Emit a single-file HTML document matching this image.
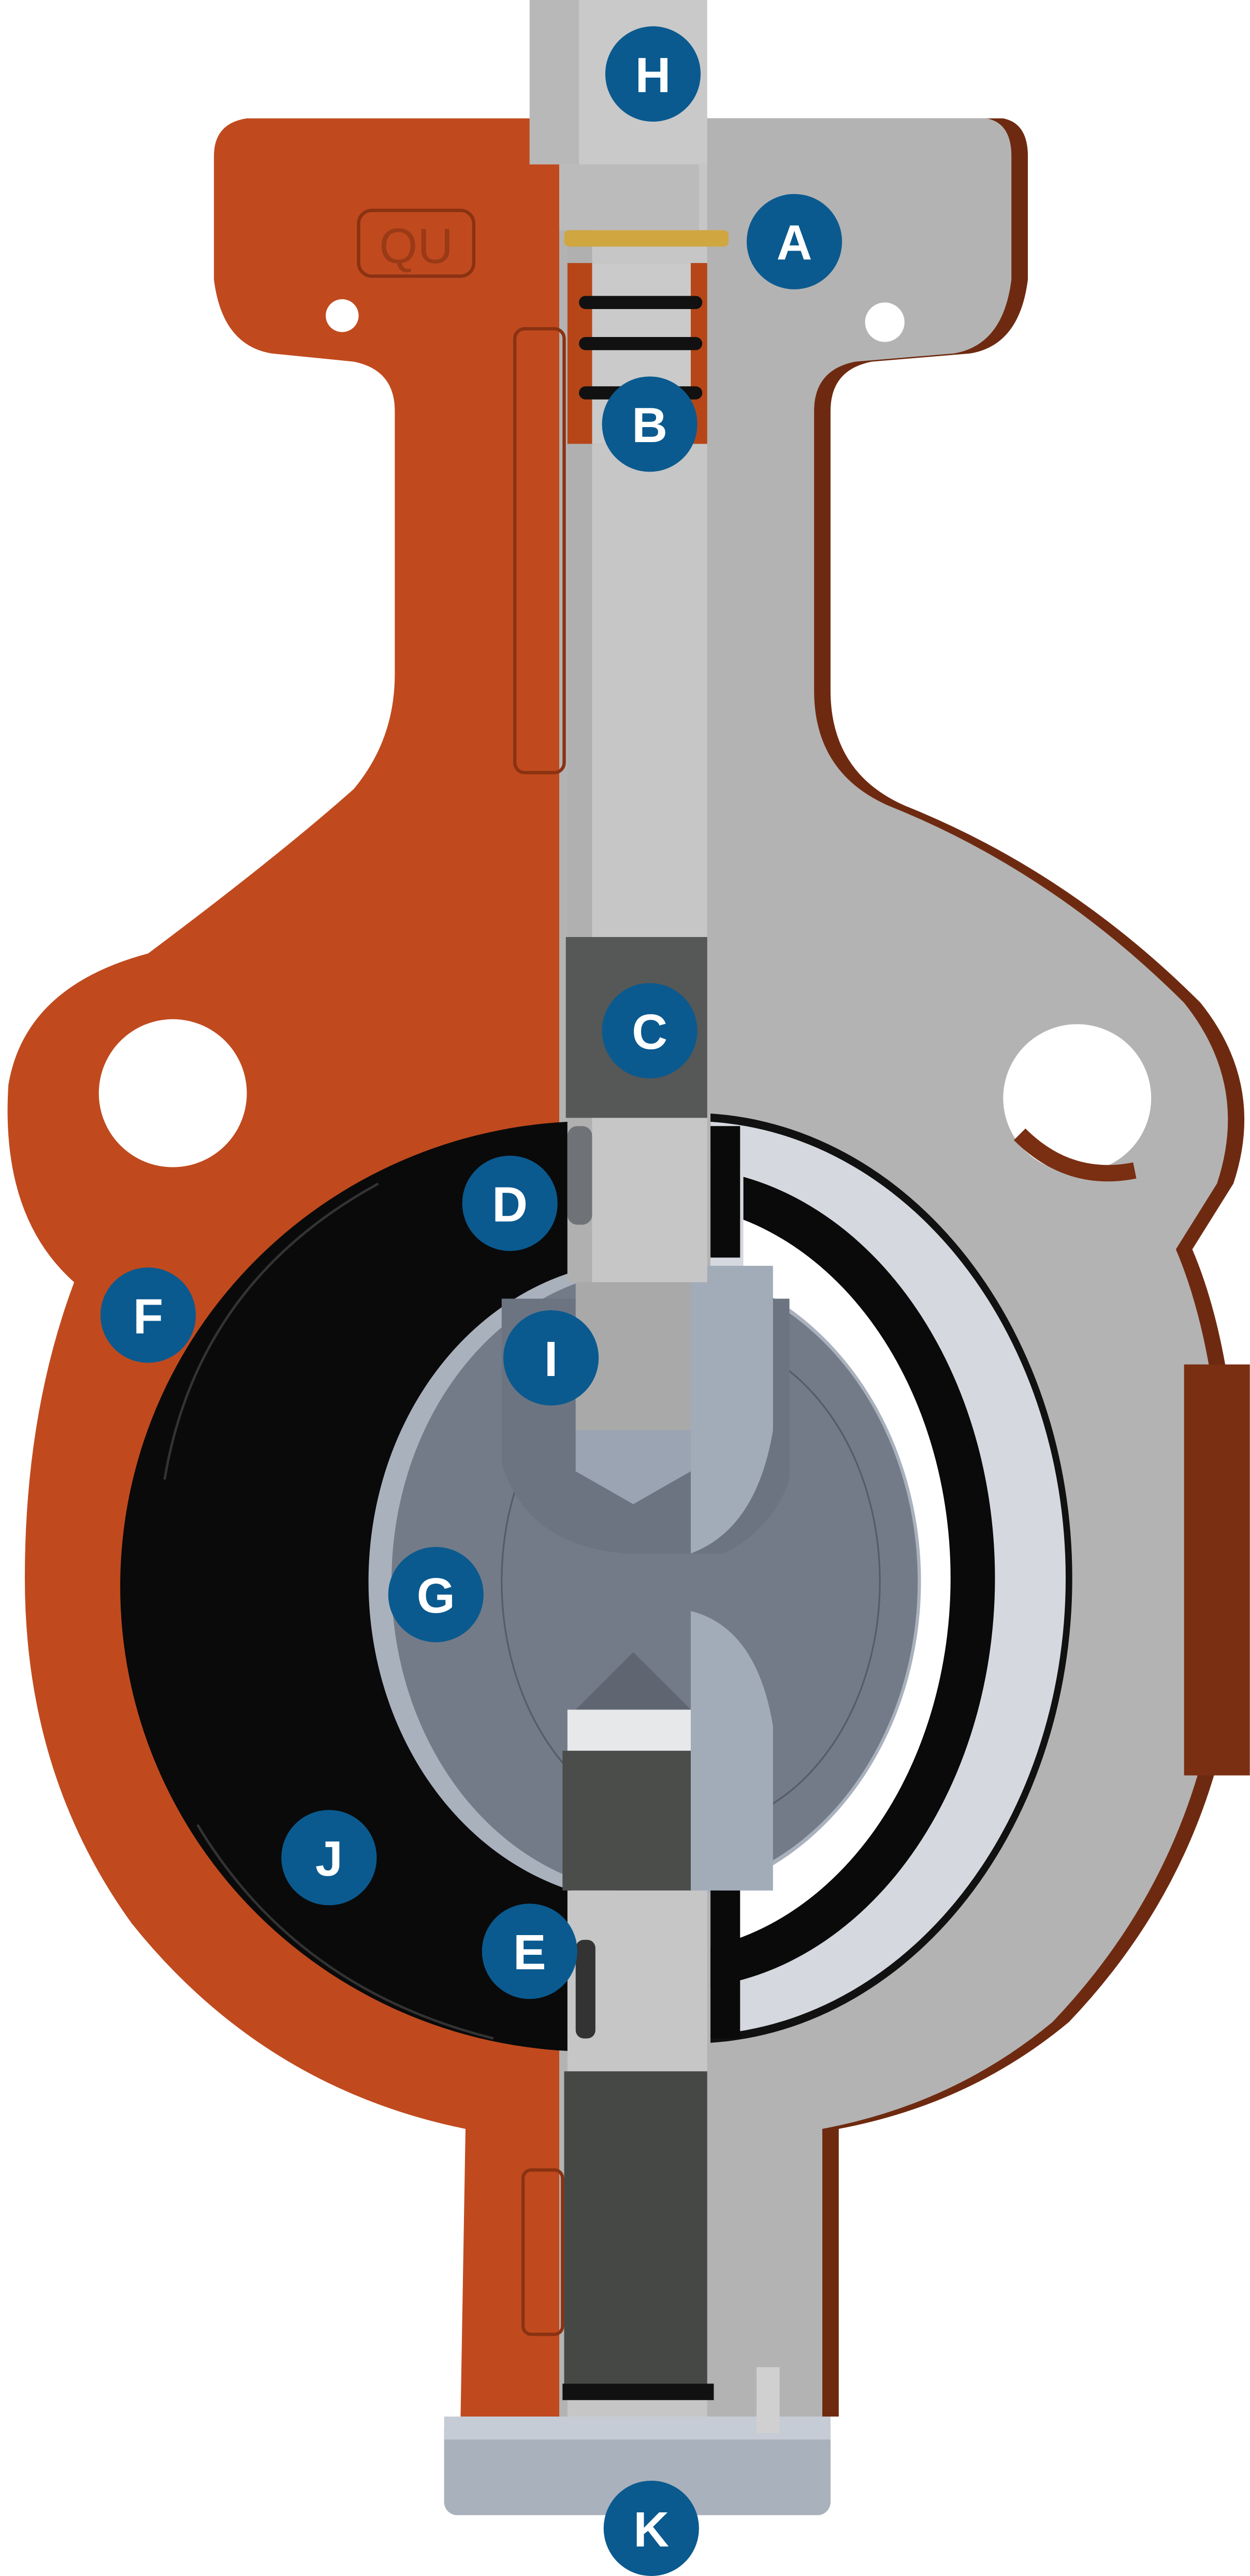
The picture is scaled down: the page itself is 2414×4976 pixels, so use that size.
<!DOCTYPE html>
<html><head><style>html,body{margin:0;padding:0;background:#fff}svg{display:block}</style></head>
<body>
<svg width="2414" height="4976" viewBox="0 0 760 1567" xmlns="http://www.w3.org/2000/svg">
<defs>
<clipPath id="right"><rect x="340" y="0" width="420" height="1567"/></clipPath>
<clipPath id="left"><rect x="0" y="0" width="362" height="1567"/></clipPath>
<clipPath id="rb"><rect x="432" y="0" width="400" height="1567"/></clipPath>
<path id="body" d="M130,95 Q130,75 150,72 L600,72 Q615,75 615,95 L615,170 Q610,210 580,215 L520,220 Q495,225 495,250 L495,420 Q495,470 540,490 Q640,530 720,610 Q760,660 740,720 L715,760 Q745,830 745,960 Q745,1120 640,1230 Q580,1280 500,1295 L500,1470 L280,1470 L283,1295 Q160,1270 80,1170 Q15,1080 15,960 Q15,860 45,780 Q0,740 5,660 Q15,600 90,580 Q170,520 215,480 Q240,450 240,410 L240,250 Q240,225 215,220 L165,215 Q135,210 130,170 Z"/>
</defs>
<use href="#body" fill="#c04a1e"/>
<g clip-path="url(#right)">
<use href="#body" fill="#6e2a10" transform="translate(10,0)"/>
<use href="#body" fill="#b3b3b3"/>
</g>
<rect x="720" y="830" width="40" height="250" fill="#7a2e12"/>
<!-- holes -->
<circle cx="105" cy="665" r="45" fill="#fff"/>
<circle cx="655" cy="668" r="45" fill="#fff"/>
<path d="M620,690 Q650,720 690,712" stroke="#7a2e12" stroke-width="10" fill="none"/>
<circle cx="208" cy="192" r="10" fill="#fff"/>
<circle cx="538" cy="196" r="12" fill="#fff"/>
<!-- orange details -->
<rect x="218" y="128" width="70" height="40" rx="8" fill="none" stroke="#8a3212" stroke-width="2"/>
<text x="253" y="160" font-family="Liberation Sans, sans-serif" font-size="30" fill="#9a3a16" text-anchor="middle">QU</text>
<rect x="313" y="200" width="30" height="270" rx="6" fill="none" stroke="#8a3212" stroke-width="2"/>
<rect x="318" y="1320" width="24" height="100" rx="5" fill="none" stroke="#8a3212" stroke-width="2"/>
<!-- left liner black -->
<g clip-path="url(#left)">
<ellipse cx="360" cy="965" rx="287" ry="283" fill="#0a0a0a"/>
</g>
<path d="M100,900 Q120,780 230,720" stroke="#333" fill="none" stroke-width="1.5"/>
<path d="M120,1110 Q180,1210 300,1240" stroke="#333" fill="none" stroke-width="1.5"/>
<!-- right liner -->
<g clip-path="url(#rb)">
<ellipse cx="420" cy="960" rx="232" ry="283" fill="#111"/>
<ellipse cx="420" cy="960" rx="228" ry="278" fill="#d5d9df"/>
<ellipse cx="410" cy="960" rx="195" ry="250" fill="#0a0a0a"/>
<ellipse cx="400" cy="960" rx="178" ry="228" fill="#fff"/>
</g>
<rect x="432" y="700" width="20" height="80" fill="#d5d9df"/>
<!-- disc -->
<ellipse cx="392" cy="962" rx="168" ry="195" fill="#a9b1bd"/>
<ellipse cx="398" cy="962" rx="160" ry="190" fill="#737b88"/>
<ellipse cx="420" cy="962" rx="115" ry="150" fill="none" stroke="#555c66" stroke-width="1"/>
<path d="M305,790 L305,890 Q320,940 380,945 L440,945 Q470,930 480,900 L480,790 Z" fill="#6c7482"/>
<path d="M420,770 L470,770 L470,870 Q460,930 420,945 Z" fill="#a2acb9"/>
<path d="M420,980 Q460,990 470,1050 L470,1150 L420,1150 Z" fill="#a2acb9"/>
<rect x="350" y="780" width="70" height="90" fill="#a9a9a9"/>
<polygon points="350,870 420,870 420,895 385,915 350,895" fill="#9aa4b2"/>
<polygon points="350,1040 385,1005 420,1040" fill="#5f6672"/>
<rect x="345" y="1040" width="75" height="25" fill="#e6e8ea"/>
<rect x="342" y="1065" width="78" height="85" fill="#4b4d4b"/>
<!-- stem -->
<rect x="345" y="100" width="85" height="680" fill="#c6c6c6"/>
<rect x="345" y="100" width="15" height="680" fill="#b0b0b0"/>
<rect x="344" y="570" width="86" height="110" fill="#555857"/>
<rect x="345" y="1150" width="85" height="320" fill="#c6c6c6"/>
<rect x="343" y="1260" width="87" height="190" fill="#464846"/>
<rect x="342" y="1450" width="92" height="10" fill="#111"/>
<!-- seals near stem -->
<rect x="345" y="685" width="15" height="60" rx="6" fill="#6f7276"/>
<rect x="350" y="1180" width="12" height="60" rx="5" fill="#333"/>
<rect x="432" y="685" width="18" height="80" fill="#0a0a0a"/>
<rect x="432" y="1150" width="18" height="90" fill="#0a0a0a"/>
<!-- top packing -->
<rect x="345" y="160" width="85" height="110" fill="#b64618"/>
<rect x="345" y="160" width="85" height="110" fill="#c6c6c6" clip-path="url(#rb)"/>
<rect x="360" y="160" width="60" height="110" fill="#cacaca"/>
<rect x="352" y="180" width="75" height="8" rx="4" fill="#111"/>
<rect x="352" y="205" width="75" height="8" rx="4" fill="#111"/>
<rect x="352" y="235" width="75" height="8" rx="4" fill="#111"/>
<rect x="343" y="140" width="100" height="10" rx="3" fill="#d0a640"/>
<!-- top actuator -->
<rect x="322" y="0" width="108" height="100" fill="#c9c9c9"/>
<rect x="322" y="0" width="30" height="100" fill="#b8b8b8"/>
<rect x="340" y="100" width="85" height="40" fill="#bbbbbb"/>
<!-- bottom cap -->
<rect x="270" y="1470" width="235" height="60" rx="8" fill="#a9b1bc"/>
<rect x="270" y="1470" width="235" height="14" fill="#c5ccd5"/>
<rect x="460" y="1440" width="14" height="40" fill="#d0d0d0"/>
<!-- labels -->
<g font-family="Liberation Sans, sans-serif" font-weight="bold" font-size="30" fill="#fff" text-anchor="middle">
<circle cx="397" cy="45" r="29" fill="#0a5a8f"/><text x="397" y="56">H</text>
<circle cx="483" cy="147" r="29" fill="#0a5a8f"/><text x="483" y="158">A</text>
<circle cx="395" cy="258" r="29" fill="#0a5a8f"/><text x="395" y="269">B</text>
<circle cx="395" cy="627" r="29" fill="#0a5a8f"/><text x="395" y="638">C</text>
<circle cx="310" cy="732" r="29" fill="#0a5a8f"/><text x="310" y="743">D</text>
<circle cx="90" cy="800" r="29" fill="#0a5a8f"/><text x="90" y="811">F</text>
<circle cx="335" cy="826" r="29" fill="#0a5a8f"/><text x="335" y="837">I</text>
<circle cx="265" cy="970" r="29" fill="#0a5a8f"/><text x="265" y="981">G</text>
<circle cx="200" cy="1130" r="29" fill="#0a5a8f"/><text x="200" y="1141">J</text>
<circle cx="322" cy="1187" r="29" fill="#0a5a8f"/><text x="322" y="1198">E</text>
<circle cx="396" cy="1538" r="29" fill="#0a5a8f"/><text x="396" y="1549">K</text>
</g>
</svg>
</body></html>
